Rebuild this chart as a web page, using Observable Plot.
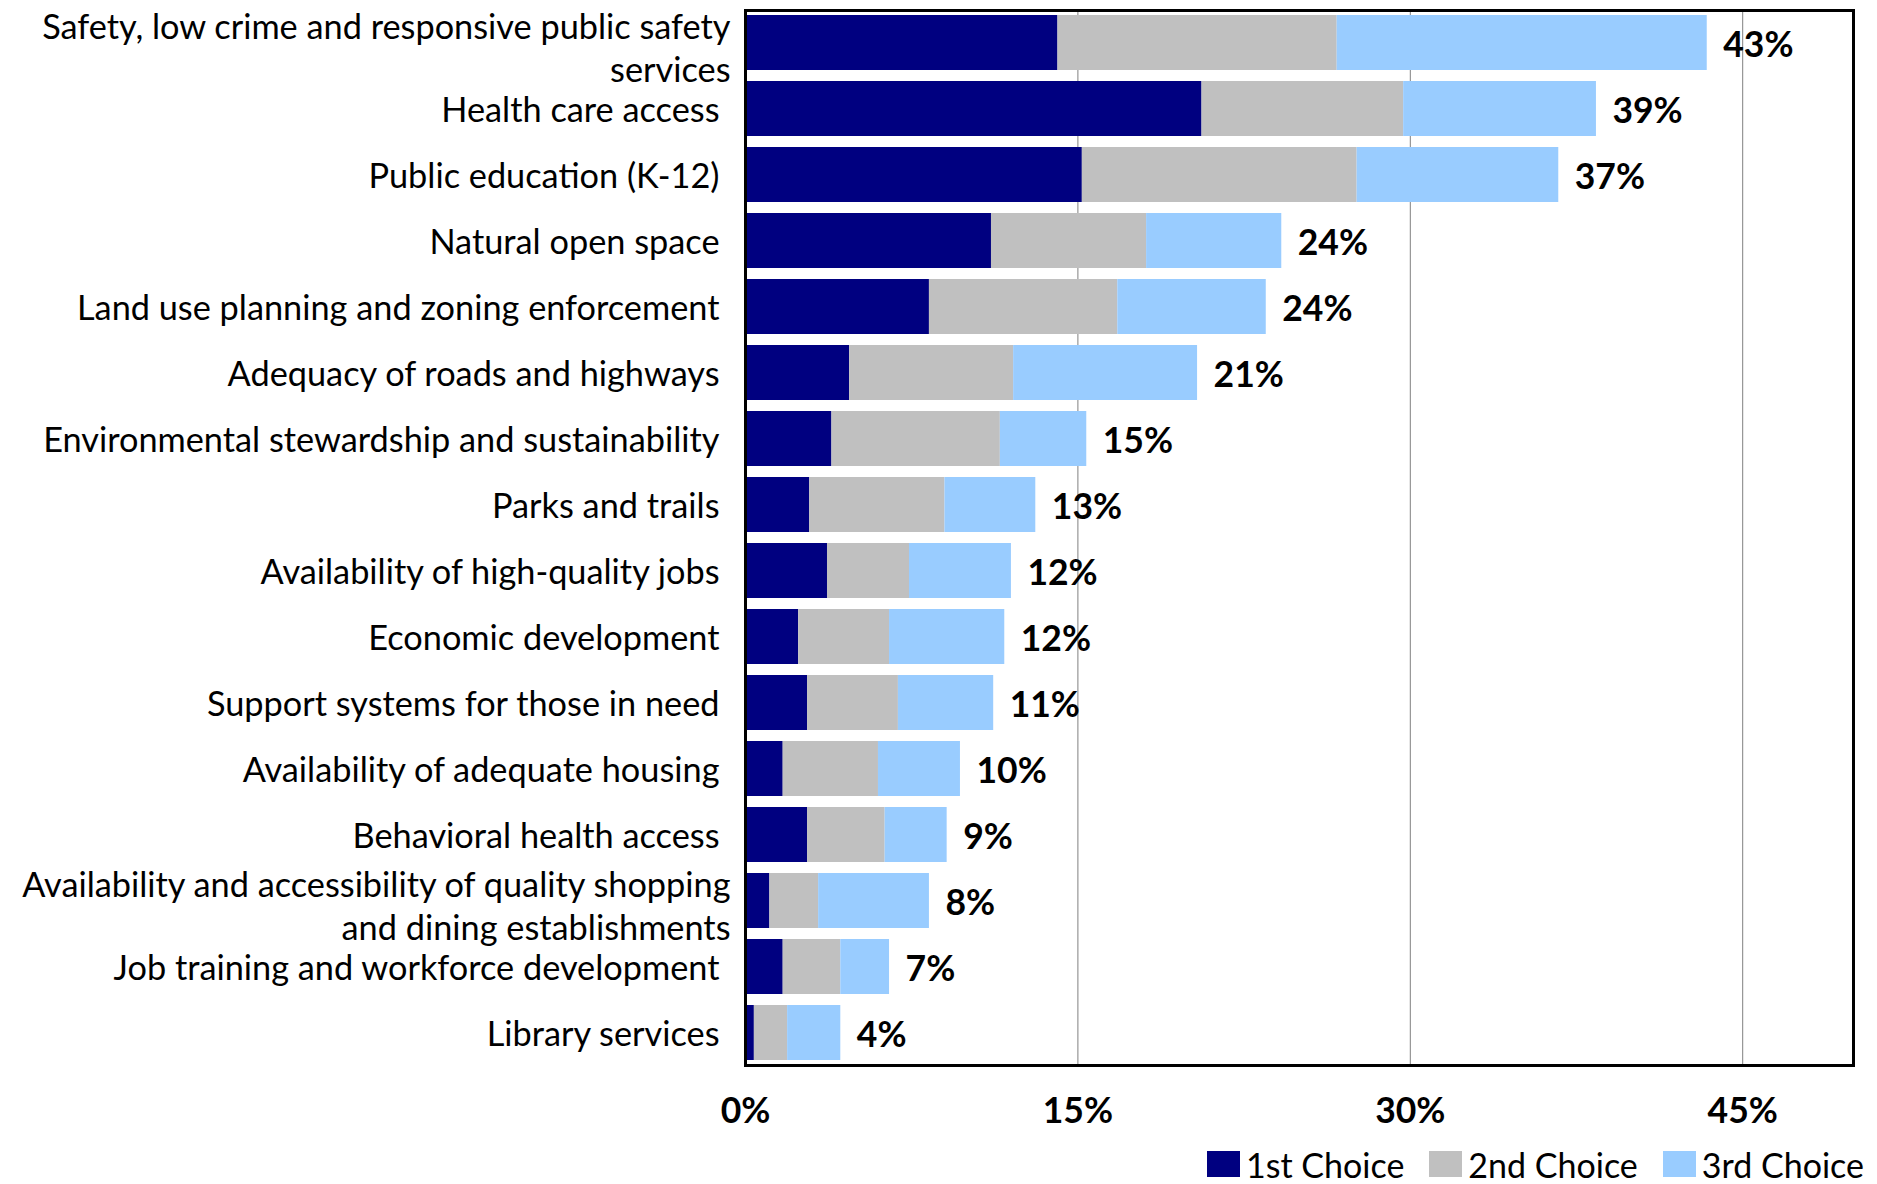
<!DOCTYPE html>
<html>
<head>
<meta charset="utf-8">
<script src="https://cdn.jsdelivr.net/npm/d3@7"></script>
<script src="https://cdn.jsdelivr.net/npm/@observablehq/plot@0.6"></script>
<style>
  html, body { margin: 0; padding: 0; background: white; }
  #chart { width: 1877px; }
  .legend { display: flex; justify-content: flex-end; align-items: center; height: 58px;
            font-family: Lato, "Open Sans", sans-serif; font-size: 34px; color: black;
            padding-right: 13px; box-sizing: border-box; width: 1877px; }
  .legend .item { display: flex; align-items: center; margin-left: 25px; }
  .legend .sw { width: 33px; height: 26px; margin-right: 6px; }
</style>
</head>
<body>
<div id="chart"></div>
<div class="legend" id="legend"></div>
<script>
const categories = [
  "Safety, low crime and responsive public safety\nservices",
  "Health care access",
  "Public education (K-12)",
  "Natural open space",
  "Land use planning and zoning enforcement",
  "Adequacy of roads and highways",
  "Environmental stewardship and sustainability",
  "Parks and trails",
  "Availability of high-quality jobs",
  "Economic development",
  "Support systems for those in need",
  "Availability of adequate housing",
  "Behavioral health access",
  "Availability and accessibility of quality shopping\nand dining establishments",
  "Job training and workforce development",
  "Library services"
];
const choices = ["1st Choice", "2nd Choice", "3rd Choice"];
const colors = ["#000080", "#C0C0C0", "#99CCFF"];
const firstChoice  = [14.1, 20.6, 15.2, 11.1, 8.3, 4.7, 3.9, 2.9, 3.7, 2.4, 2.8, 1.7, 2.8, 1.1, 1.7, 0.4];
const secondChoice = [12.6,  9.1, 12.4,  7.0, 8.5, 7.4, 7.6, 6.1, 3.7, 4.1, 4.1, 4.3, 3.5, 2.2, 2.6, 1.5];
const thirdChoice  = [16.7,  8.7,  9.1,  6.1, 6.7, 8.3, 3.9, 4.1, 4.6, 5.2, 4.3, 3.7, 2.8, 5.0, 2.2, 2.4];
const totalLabels  = ["43%", "39%", "37%", "24%", "24%", "21%", "15%", "13%", "12%", "12%", "11%", "10%", "9%", "8%", "7%", "4%"];
const xTicks = [0, 15, 30, 45];

const series = [firstChoice, secondChoice, thirdChoice];
const tidy = [];
categories.forEach((c, i) => {
  series.forEach((s, k) => tidy.push({category: c, choice: choices[k], value: s[i]}));
});
const totals = categories.map((c, i) => firstChoice[i] + secondChoice[i] + thirdChoice[i]);
const multi = categories.filter(c => c.includes("\n"));
const single = categories.filter(c => !c.includes("\n"));

const chart = Plot.plot({
  width: 1877,
  height: 1135,
  marginLeft: 745,
  marginRight: 24,
  marginTop: 10,
  marginBottom: 70,
  style: {fontFamily: "Lato, 'Open Sans', sans-serif", color: "black", background: "white"},
  x: {domain: [0, 50], axis: null},
  y: {domain: categories, paddingInner: 0.17, paddingOuter: 0.06, axis: null},
  color: {domain: choices, range: colors},
  marks: [
    Plot.gridX(xTicks.slice(1), {stroke: "#808080", strokeOpacity: 1, strokeWidth: 1}),
    Plot.barX(tidy, {y: "category", x: "value", fill: "choice"}),
    Plot.text(categories, {x: (d, i) => totals[i], y: d => d, text: (d, i) => totalLabels[i],
      dx: 16, dy: 3, textAnchor: "start", fontWeight: "bold", fontSize: 35.5, fill: "black"}),
    Plot.axisX({ticks: xTicks, tickFormat: d => d + "%", tickSize: 0, tickPadding: 32,
      fontSize: 35.5, fontWeight: "bold", label: null}),
    Plot.axisY({ticks: multi, tickSize: 0, tickPadding: 15, fontSize: 34.3, lineHeight: 1.25, dy: 4, label: null}),
    Plot.axisY({ticks: single, tickSize: 0, tickPadding: 26, fontSize: 34.3, dy: 2, label: null}),
    Plot.frame({stroke: "black", strokeWidth: 3})
  ]
});
document.getElementById("chart").appendChild(chart);

const legend = document.getElementById("legend");
choices.forEach((c, k) => {
  const item = document.createElement("div");
  item.className = "item";
  const sw = document.createElement("div");
  sw.className = "sw";
  sw.style.background = colors[k];
  const t = document.createElement("span");
  t.textContent = c;
  item.appendChild(sw);
  item.appendChild(t);
  legend.appendChild(item);
});
</script>
</body>
</html>
